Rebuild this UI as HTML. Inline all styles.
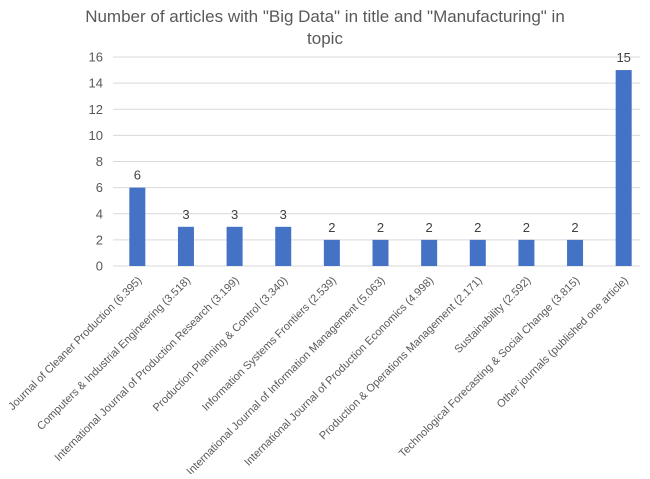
<!DOCTYPE html>
<html><head><meta charset="utf-8"><style>
body{margin:0;background:#fff}
text{font-family:"Liberation Sans",sans-serif}
</style></head><body>
<svg width="650" height="474">
<g id="chart"></g>
</svg>
<script>
const categories=["Journal of Cleaner Production (6.395)","Computers & Industrial Engineering (3.518)","International Journal of Production Research (3.199)","Production Planning & Control (3.340)","Information Systems Frontiers (2.539)","International Journal of Information Management (5.063)","International Journal of Production Economics (4.998)","Production & Operations Management (2.171)","Sustainability (2.592)","Technological Forecasting & Social Change (3.815)","Other journals (published one article)"];
const values=[6,3,3,3,2,2,2,2,2,2,15];
const yTicks=[0,2,4,6,8,10,12,14,16];
const NS="http://www.w3.org/2000/svg";
const g=document.getElementById('chart');
const x0=113,x1=648,yBase=266,yTop=57,yMax=16;
const y=v=>yBase-(v/yMax)*(yBase-yTop);
const step=(x1-x0)/categories.length;
const xc=i=>x0+step*(i+0.5);
function mk(t,a){const e=document.createElementNS(NS,t);for(const k in a)e.setAttribute(k,a[k]);g.appendChild(e);return e;}
const t1=mk('text',{x:325,y:22,'text-anchor':'middle','font-size':17,fill:'#595959'});t1.textContent='Number of articles with "Big Data" in title and "Manufacturing" in';


const t2=mk('text',{x:325,y:44,'text-anchor':'middle','font-size':17,fill:'#595959'});t2.textContent='topic';


yTicks.forEach(v=>{
 const l=mk('line',{x1:x0,x2:x1-8,y1:y(v),y2:y(v),stroke:'#d9d9d9','stroke-width':1});
 
 
 const t=mk('text',{x:103,y:y(v)+4.5,'text-anchor':'end','font-size':13,fill:'#595959'});t.textContent=v;
 
 
});
values.forEach((v,i)=>{
 const b=mk('rect',{x:xc(i)-8,y:y(v),width:16,height:yBase-y(v),fill:'#4472c4'});
 
 
 const t=mk('text',{x:xc(i),y:y(v)-8,'text-anchor':'middle','font-size':13,fill:'#404040'});t.textContent=v;
 
 
 const c=mk('text',{x:0,y:0,'text-anchor':'end','font-size':11,fill:'#595959',transform:`translate(${xc(i)+5},${281}) rotate(-45)`});c.textContent=categories[i];
 
 
});
</script>
</body></html>
